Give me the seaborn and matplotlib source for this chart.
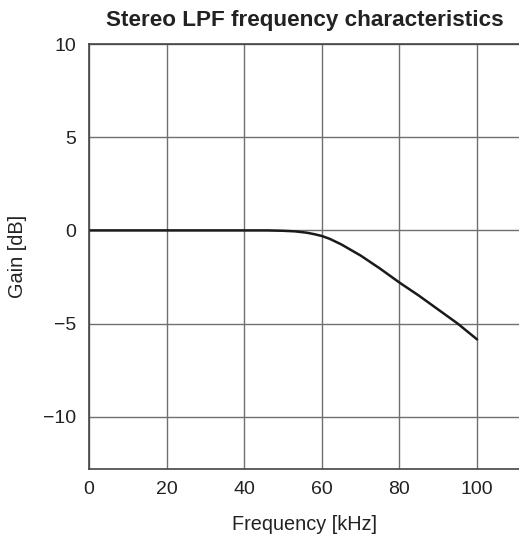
import numpy as np
import pandas as pd
import seaborn as sns
from matplotlib import pyplot as plt

# Stereo LPF response
freq_khz = [0, 10, 20, 30, 40, 46, 50, 53, 56, 58, 60, 62, 65, 70, 75, 80, 85, 90, 95, 100]
gain_db = [0, 0, 0, 0, 0, 0.0, -0.02, -0.05, -0.12, -0.2, -0.3, -0.45, -0.75, -1.35, -2.05, -2.8, -3.5, -4.25, -5.0, -5.85]

x_ticks = [0, 20, 40, 60, 80, 100]
y_ticks = [-10, -5, 0, 5, 10]

df = pd.DataFrame({'freq': freq_khz, 'gain': gain_db})

sns.set_style('white')
plt.rcParams['font.family'] = ['Liberation Sans', 'DejaVu Sans']

fig = plt.figure(figsize=(5.19, 5.44), dpi=100)
ax = fig.add_axes([0.1715, 0.138, 0.83, 0.781])

sns.lineplot(data=df, x='freq', y='gain', ax=ax, color='#1a1a1a', linewidth=1.8)

ax.set_xlim(0, 111)
ax.set_ylim(-12.8, 10)
ax.set_xticks(x_ticks)
ax.set_yticks(y_ticks)
ax.set_yticklabels([str(v).replace('-', '\u2212') for v in y_ticks])
ax.grid(True, color='#707070', linewidth=1)
ax.set_axisbelow(True)

for side in ['left', 'bottom', 'top']:
    ax.spines[side].set_color('#444444')
    ax.spines[side].set_linewidth(1.2)
ax.spines['right'].set_visible(False)

ax.tick_params(labelsize=14, length=0, pad=9, colors='#222222')
ax.set_xlabel('Frequency [kHz]', fontsize=14.3, labelpad=12, color='#222222')
ax.set_ylabel('Gain [dB]', fontsize=14.3, labelpad=12, color='#222222')
ax.set_title('Stereo LPF frequency characteristics', fontsize=16.2, fontweight='bold', pad=13, color='#222222')

fig.savefig('out.png', dpi=100)
